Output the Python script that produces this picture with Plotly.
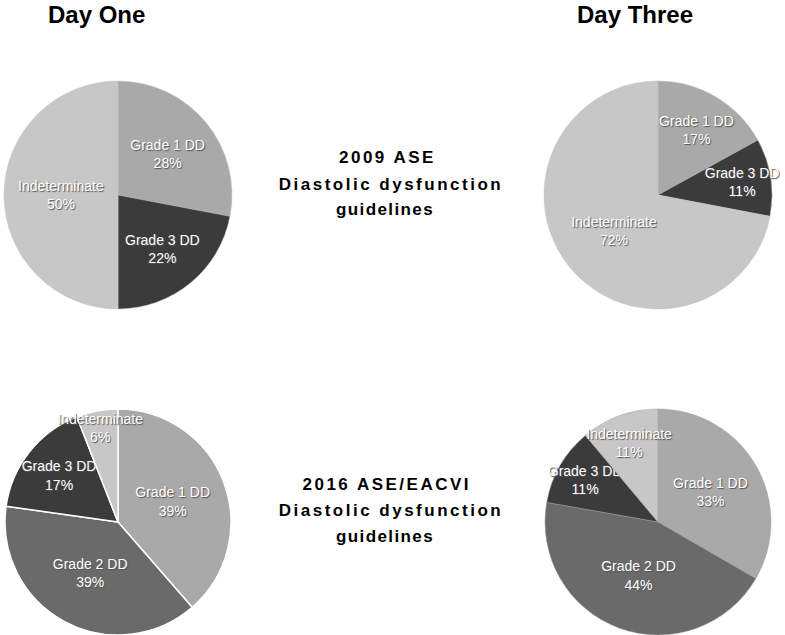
import plotly.graph_objects as go

# Data
labels_2009 = ["Grade 1 DD", "Grade 3 DD", "Indeterminate"]
day1_2009 = [28, 22, 50]
day3_2009 = [17, 11, 72]

labels_2016 = ["Grade 1 DD", "Grade 2 DD", "Grade 3 DD", "Indeterminate"]
day1_2016 = [39, 39, 17, 6]
day3_2016 = [33, 44, 11, 11]

col_map = {
    "Grade 1 DD": "#a9a9a9",
    "Grade 2 DD": "#6a6a6a",
    "Grade 3 DD": "#3b3b3b",
    "Indeterminate": "#c7c7c7",
}

W, H = 785, 635

def clamp(v):
    return max(0.0, min(1.0, v))

def dom(cx, cy, r):
    return dict(x=[clamp((cx - r) / W), clamp((cx + r) / W)],
                y=[clamp(1 - (cy + r) / H), clamp(1 - (cy - r) / H)])

def make_pie(labels, values, domain, line_col, line_w):
    return go.Pie(
        labels=labels,
        values=values,
        text=[f"{v}%" for v in values],
        texttemplate="%{label}<br>%{text}",
        textposition="inside",
        insidetextorientation="horizontal",
        sort=False,
        direction="clockwise",
        rotation=0,
        marker=dict(colors=[col_map[l] for l in labels], line=dict(color=line_col, width=line_w)),
        textfont=dict(family="Arial, Liberation Sans, sans-serif", size=14, color="white",
                      shadow="1px 1px 1px #555"),
        domain=domain,
        showlegend=False,
        hoverinfo="label+text",
    )

fig = go.Figure()
fig.add_trace(make_pie(labels_2009, day1_2009, dom(118, 195, 114), "#c0c0c0", 0.5))
fig.add_trace(make_pie(labels_2009, day3_2009, dom(658, 195, 114), "#c0c0c0", 0.5))
fig.add_trace(make_pie(labels_2016, day1_2016, dom(118, 522, 113), "white", 1.5))
fig.add_trace(make_pie(labels_2016, day3_2016, dom(658, 522, 113), "#a0a0a0", 0.5))

bold = dict(family="Arial, Liberation Sans, sans-serif", size=17, color="black", weight="bold")
title_font = dict(family="Arial, Liberation Sans, sans-serif", size=24, color="black", weight="bold")

annotations = [
    dict(text="Day One", x=96 / W, y=1 - 15 / H, font=title_font),
    dict(text="Day Three", x=635 / W, y=1 - 15 / H, font=title_font),
]
blocks = [
    (["2009 ASE", "Diastolic dysfunction", "guidelines"], [157, 184, 209], [387, 391, 385]),
    (["2016 ASE/EACVI", "Diastolic dysfunction", "guidelines"], [484, 511, 536], [387, 391, 385]),
]
for lines, ys, xs in blocks:
    for t, yy, xx in zip(lines, ys, xs):
        annotations.append(dict(text=t, x=xx / W, y=1 - yy / H, font=bold))

for a in annotations:
    a.update(xref="paper", yref="paper", showarrow=False, xanchor="center", yanchor="middle")

fig.update_layout(
    width=W, height=H,
    margin=dict(l=0, r=0, t=0, b=0),
    paper_bgcolor="white",
    plot_bgcolor="white",
    annotations=annotations,
    uniformtext=dict(minsize=14, mode="show"),
)

post = """
document.body.style.margin = '0px';
document.querySelectorAll('g.annotation text.annotation-text').forEach(function(t){
  var s = t.textContent;
  if (s.indexOf('ASE') >= 0 || s.indexOf('Diastolic') >= 0) {
    t.setAttribute('letter-spacing', '2.5px');
  } else if (s.indexOf('guidelines') >= 0) {
    t.setAttribute('letter-spacing', '1.4px');
  }
});
"""

fig.write_html("out.html", post_script=post, config={"displayModeBar": False})
